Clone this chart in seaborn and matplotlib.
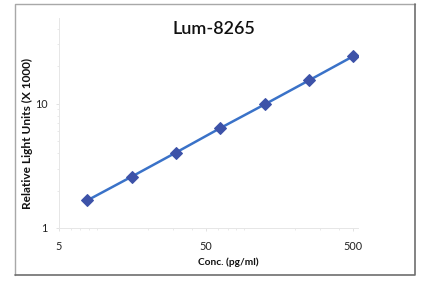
import matplotlib
matplotlib.use("Agg")
import matplotlib.pyplot as plt
import seaborn as sns
import pandas as pd
from matplotlib.lines import Line2D
from matplotlib.ticker import NullFormatter, LogLocator

conc = [7.8, 15.6, 31.25, 62.5, 125, 250, 500]
rlu = [1.67, 2.59, 4.05, 6.37, 9.87, 15.4, 24.1]
xticks = [5, 50, 500]
xticklabels = ["5", "50", "500"]
yticks = [1, 10]
yticklabels = ["1", "10"]

df = pd.DataFrame({"conc": conc, "rlu": rlu})

sns.set_style("white")
plt.rcParams['font.family'] = ['Lato', 'DejaVu Sans']

fig = plt.figure(figsize=(4.3, 2.85), dpi=100)
ax = fig.add_axes([59/430, 1-228/285, (358-59)/430, (228-18)/285])

sns.lineplot(data=df, x="conc", y="rlu", ax=ax, color="#3a72c8", linewidth=1.8,
             marker="D", markersize=6.3, markerfacecolor="#3d52a8",
             markeredgecolor="#3d52a8")

ax.set_xscale("log")
ax.set_yscale("log")
ax.set_xlim(5, 540)
ax.set_ylim(1, 49)
ax.set_xticks(xticks)
ax.set_xticklabels(xticklabels)
ax.set_yticks(yticks)
ax.set_yticklabels(yticklabels)
ax.xaxis.set_minor_locator(LogLocator(base=10, subs=range(2, 10)))
ax.yaxis.set_minor_locator(LogLocator(base=10, subs=range(2, 10)))
ax.xaxis.set_minor_formatter(NullFormatter())
ax.yaxis.set_minor_formatter(NullFormatter())
ax.tick_params(axis="both", which="major", labelsize=7.8, length=2, color="#dddddd",
               labelcolor="#222222", width=0.6)
ax.tick_params(axis="x", which="major", pad=7)
ax.tick_params(axis="y", which="major", pad=6)
ax.tick_params(axis="both", which="minor", length=1.5, color="#e0e0e0", width=0.5)
ax.tick_params(axis="x", bottom=True, which="both")
ax.tick_params(axis="y", left=True, which="both")

for s in ["top", "right"]:
    ax.spines[s].set_visible(False)
for s in ["left", "bottom"]:
    ax.spines[s].set_color("#e6e6e6")
    ax.spines[s].set_linewidth(0.7)

ax.set_xlabel("Conc. (pg/ml)", fontsize=7.3, fontweight="bold", color="#111111")
ax.set_ylabel("Relative Light Units (X 1000)", fontsize=8.6, fontweight="bold", color="#111111")
ax.xaxis.set_label_coords((228-59)/(358-59), -(257-228)/210)
ax.yaxis.set_label_coords(-(59-33)/299, (228-133)/210)

fig.text(214/430, 1-29/285, "Lum-8265", ha="center", va="center", fontsize=13,
         fontweight="semibold", color="#111111")

fig.add_artist(Line2D([15/430, 15/430, 415/430], [10/285, 281/285, 281/285],
                      transform=fig.transFigure, color="#a8a8a8", linewidth=1.0))
fig.add_artist(Line2D([15/430, 415/430, 415/430], [10/285, 10/285, 281/285],
                      transform=fig.transFigure, color="#6e6e6e", linewidth=1.2))

fig.savefig("out.png", dpi=100)
